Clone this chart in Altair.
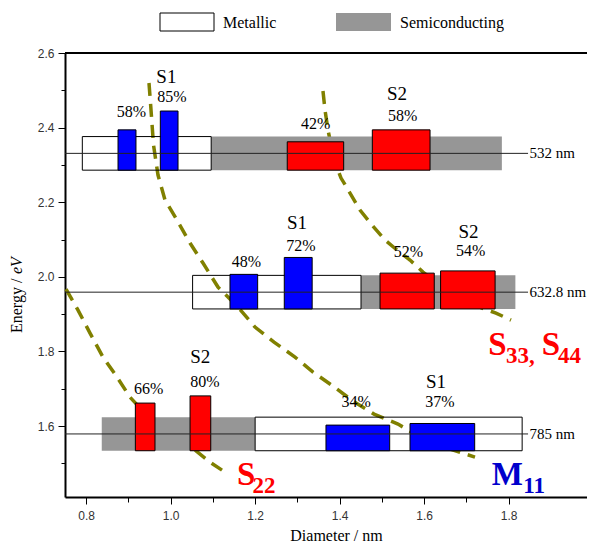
import altair as alt
import pandas as pd

# ---------------- data ----------------
# laser lines
laser_names = ["532 nm", "632.8 nm", "785 nm"]
laser_E = [2.331, 1.959, 1.579]
band_half = 0.045
line_end = 1.846

# bands: laser index, type, start, end
band_laser = [0, 0, 1, 1, 2, 2]
band_type = ["Metallic", "Semiconducting", "Metallic", "Semiconducting", "Semiconducting", "Metallic"]
band_x0 = [0.791, 1.096, 1.052, 1.4506, 0.837, 1.200]
band_x1 = [1.096, 1.784, 1.4506, 1.816, 1.200, 1.832]

# coloured bars: laser index, family, start, end, top energy
bar_laser = [0, 0, 0, 0, 1, 1, 1, 1, 2, 2, 2, 2]
bar_kind = ["M", "M", "S", "S", "M", "M", "S", "S", "S", "S", "M", "M"]
bar_x0 = [0.8755, 0.9756, 1.276, 1.4774, 1.1405, 1.269, 1.4956, 1.639, 0.9165, 1.046, 1.3677, 1.5666]
bar_x1 = [0.918, 1.0175, 1.4096, 1.614, 1.206, 1.335, 1.624, 1.768, 0.963, 1.095, 1.5185, 1.7197]
bar_top = [2.394, 2.4445, 2.362, 2.394, 2.0067, 2.052, 2.010, 2.016, 1.6617, 1.681, 1.6027, 1.607]

# percentage labels
pct_text = ["58%", "85%", "42%", "58%", "48%", "72%", "52%", "54%", "66%", "80%", "34%", "37%"]
pct_x = [0.907, 1.003, 1.343, 1.549, 1.1796, 1.3086, 1.563, 1.710, 0.948, 1.081, 1.439, 1.6376]
pct_y = [2.441, 2.483, 2.410, 2.432, 2.0405, 2.0826, 2.067, 2.070, 1.699, 1.719, 1.665, 1.665]

# S1 / S2 labels
s_text = ["S1", "S2", "S1", "S2", "S2", "S1"]
s_x = [0.990, 1.536, 1.299, 1.705, 1.070, 1.628]
s_y = [2.536, 2.490, 2.1434, 2.121, 1.784, 1.719]

# dashed transition curves
m11_d = [0.9488, 0.9536, 0.9595, 0.9701, 0.9867, 1.0151, 1.0459, 1.0766, 1.1121, 1.1595, 1.1997,
         1.2447, 1.2944, 1.3370, 1.3843, 1.4317, 1.4814, 1.5382, 1.5902, 1.6541, 1.7204]
m11_E = [2.5196, 2.4472, 2.3534, 2.2729, 2.2059, 2.1523, 2.0906, 2.0370, 1.9727, 1.9190, 1.8654,
         1.8252, 1.7850, 1.7448, 1.7072, 1.6670, 1.6322, 1.6054, 1.5705, 1.5410, 1.5169]
s33_d = [1.3606, 1.3654, 1.3725, 1.3820, 1.3914, 1.4033, 1.4246, 1.4482, 1.4766, 1.5074, 1.5358,
         1.5666, 1.5973, 1.6376, 1.6849, 1.7370, 1.7701, 1.8056]
s33_E = [2.4981, 2.4472, 2.3936, 2.3399, 2.2997, 2.2649, 2.2247, 2.1791, 2.1389, 2.0987, 2.0718,
         2.0450, 2.0129, 1.9780, 1.9432, 1.9164, 1.9029, 1.8842]
s22_d = [0.7524, 0.7808, 0.8092, 0.8399, 0.8731, 0.9038, 0.9346, 0.9749, 1.0175, 1.0577, 1.0932, 1.1216]
s22_E = [1.9673, 1.9110, 1.8493, 1.7850, 1.7314, 1.6777, 1.6402, 1.6027, 1.5678, 1.5357, 1.5035, 1.4820]

# big family labels (main letter + subscript)
big_kind = ["S", "S", "S", "M"]
big_main = ["S", "S", "S", "M"]
big_main_x = [1.1571, 1.7519, 1.8783, 1.7599]
big_main_y = [1.4421, 1.7906, 1.7906, 1.4421]
big_sub = ["22", "33,", "44", "11"]
big_sub_x = [1.1938, 1.7938, 1.9169, 1.8348]
big_sub_y = [1.4207, 1.7692, 1.7692, 1.4199]

# ---------------- build ----------------
W, H = 522, 444
xs = alt.Scale(domain=[0.75, 0.75 + W / 422.5], nice=False, zero=False)
ys = alt.Scale(domain=[1.41, 2.6], nice=False, zero=False)
SERIF = "Liberation Serif"
OLIVE = "#808000"
GRAY = "#969696"
BLUE = "#0000FF"
RED = "#FF0000"

lasers = pd.DataFrame({"name": laser_names, "E": laser_E,
                       "x0": [0.75] * 3, "x1": [line_end] * 3,
                       "lx": [line_end + 0.0035] * 3})
bands = pd.DataFrame({
    "type": band_type, "x0": band_x0, "x1": band_x1,
    "y0": [laser_E[i] - band_half for i in band_laser],
    "y1": [laser_E[i] + band_half for i in band_laser],
})
bars = pd.DataFrame({
    "kind": bar_kind, "x0": bar_x0, "x1": bar_x1,
    "y0": [laser_E[i] - band_half for i in bar_laser],
    "y1": bar_top,
})
pcts = pd.DataFrame({"t": pct_text, "x": pct_x, "y": pct_y})
slab = pd.DataFrame({"t": s_text, "x": s_x, "y": s_y})
rows = []
for name, dd, ee in [("M11", m11_d, m11_E), ("S33", s33_d, s33_E), ("S22", s22_d, s22_E)]:
    for i, (d, e) in enumerate(zip(dd, ee)):
        rows.append({"curve": name, "i": i, "d": d, "E": e})
curves = pd.DataFrame(rows)
bigm = pd.DataFrame({"k": big_kind, "t": big_main, "x": big_main_x, "y": big_main_y})
bigs = pd.DataFrame({"k": big_kind, "t": big_sub, "x": big_sub_x, "y": big_sub_y})

even = "round(datum.value*10)%2==0"
x_axis = alt.Axis(
    values=[0.8, 0.9, 1.0, 1.1, 1.2, 1.3, 1.4, 1.5, 1.6, 1.7, 1.8],
    labelExpr=f"{even} ? format(datum.value, '.1f') : ''",
    tickSize={"condition": {"test": even, "value": 7}, "value": 5},
    labelPadding=6, labelFlush=False,
    title="Diameter / nm", titleFont=SERIF, titleFontSize=16, titleFontWeight="normal",
    titleColor="black", titleBaseline="alphabetic", titleY=43, titleX=271, titleAlign="center",
)
y_axis = alt.Axis(
    values=[1.5, 1.6, 1.7, 1.8, 1.9, 2.0, 2.1, 2.2, 2.3, 2.4, 2.5, 2.6],
    labelExpr=f"{even} ? format(datum.value, '.1f') : ''",
    tickSize={"condition": {"test": even, "value": 7}, "value": 4},
    labelPadding=4, labelFlush=False, title=None,
)


def X(f):
    return alt.X(f, scale=xs, axis=x_axis)


def Y(f):
    return alt.Y(f, scale=ys, axis=y_axis)


curve_layer = alt.Chart(curves).mark_line(
    color=OLIVE, strokeWidth=3.5, strokeDash=[13, 8]
).encode(x=X("d:Q"), y=Y("E:Q"), detail="curve:N", order="i:Q")

semi_layer = alt.Chart(bands).transform_filter("datum.type == 'Semiconducting'").mark_rect(
    fill=GRAY
).encode(x=X("x0:Q"), x2="x1:Q", y=Y("y0:Q"), y2="y1:Q")
metal_layer = alt.Chart(bands).transform_filter("datum.type == 'Metallic'").mark_rect(
    fill="white", fillOpacity=0, stroke="black", strokeWidth=1
).encode(x=X("x0:Q"), x2="x1:Q", y=Y("y0:Q"), y2="y1:Q")

blue_layer = alt.Chart(bars).transform_filter("datum.kind == 'M'").mark_rect(
    fill=BLUE, stroke="black", strokeWidth=1
).encode(x=X("x0:Q"), x2="x1:Q", y=Y("y0:Q"), y2="y1:Q")
red_layer = alt.Chart(bars).transform_filter("datum.kind == 'S'").mark_rect(
    fill=RED, stroke="black", strokeWidth=1
).encode(x=X("x0:Q"), x2="x1:Q", y=Y("y0:Q"), y2="y1:Q")

laser_layer = alt.Chart(lasers).mark_rule(color="#222222", strokeWidth=1).encode(
    x=X("x0:Q"), x2="x1:Q", y=Y("E:Q"))
laser_text = alt.Chart(lasers).mark_text(
    align="left", baseline="middle", font=SERIF, fontSize=15, color="black"
).encode(x=X("lx:Q"), y=Y("E:Q"), text="name:N")

pct_layer = alt.Chart(pcts).mark_text(
    align="center", baseline="middle", font=SERIF, fontSize=16, color="black"
).encode(x=X("x:Q"), y=Y("y:Q"), text="t:N")
s_layer = alt.Chart(slab).mark_text(
    align="center", baseline="middle", font=SERIF, fontSize=19, color="black"
).encode(x=X("x:Q"), y=Y("y:Q"), text="t:N")


def big(df, kind, size, color):
    return alt.Chart(df).transform_filter(f"datum.k == '{kind}'").mark_text(
        align="left", baseline="alphabetic", font=SERIF, fontSize=size, fontWeight="bold", color=color
    ).encode(x=X("x:Q"), y=Y("y:Q"), text="t:N")


big_layers = [big(bigm, "S", 33, RED), big(bigs, "S", 23, RED),
              big(bigm, "M", 33, "#0000CC"), big(bigs, "M", 23, "#0000CC")]

one = pd.DataFrame({"a": [0]})
top_rule = alt.Chart(one).mark_rule(color="black", strokeWidth=2).encode(
    x=alt.value(0), x2=alt.value(W), y=alt.value(0))

leg_m = alt.Chart(one).mark_rect(fill="white", stroke="black", strokeWidth=1).encode(
    x=alt.value(95), x2=alt.value(149), y=alt.value(-40), y2=alt.value(-22))
leg_s = alt.Chart(one).mark_rect(fill=GRAY).encode(
    x=alt.value(271), x2=alt.value(326), y=alt.value(-40), y2=alt.value(-22))
leg_mt = alt.Chart(one).mark_text(align="left", baseline="middle", font=SERIF, fontSize=16,
                                  color="black", text="Metallic").encode(
    x=alt.value(158), y=alt.value(-30))
leg_st = alt.Chart(one).mark_text(align="left", baseline="middle", font=SERIF, fontSize=16,
                                  color="black", text="Semiconducting").encode(
    x=alt.value(335), y=alt.value(-30))

yt1 = alt.Chart(one).mark_text(angle=270, align="left", baseline="alphabetic", font=SERIF,
                               fontSize=16, color="black", text="Energy / ").encode(
    x=alt.value(-43), y=alt.value(280))
yt2 = alt.Chart(one).mark_text(angle=270, align="left", baseline="alphabetic", font=SERIF,
                               fontSize=16, fontStyle="italic", color="black", text="eV").encode(
    x=alt.value(-43), y=alt.value(221))

chart = alt.layer(
    curve_layer, semi_layer, metal_layer, blue_layer, red_layer, laser_layer, laser_text,
    pct_layer, s_layer, *big_layers, top_rule, leg_m, leg_s, leg_mt, leg_st, yt1, yt2
).properties(
    width=W, height=H,
    autosize=alt.AutoSizeParams(type="none"),
    padding={"left": 57, "top": 45, "right": 0, "bottom": 45},
).configure_view(strokeWidth=0).configure_axis(
    domainColor="black", domainWidth=2, tickColor="black", tickWidth=1,
    labelFont="Liberation Sans", labelFontSize=12, labelColor="#333333", grid=False,
)

chart.save("out.html", embed_options={"renderer": "svg", "actions": False})
